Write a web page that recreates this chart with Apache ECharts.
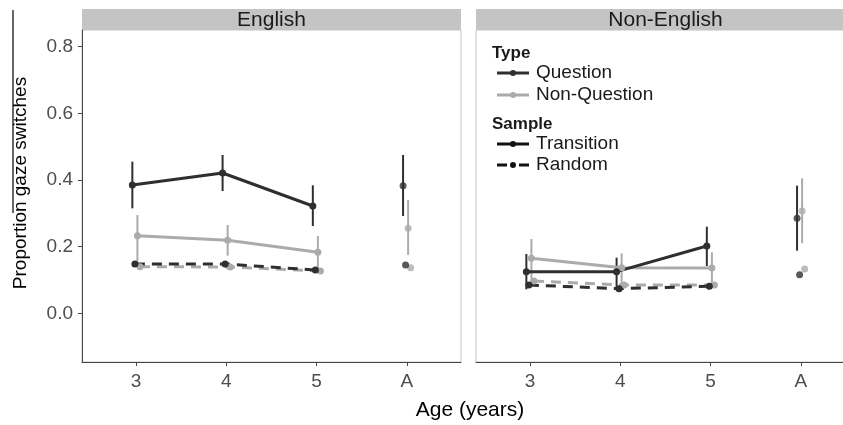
<!DOCTYPE html>
<html>
<head>
<meta charset="utf-8">
<script src="https://cdn.jsdelivr.net/npm/echarts@6/dist/echarts.min.js"></script>
<style>
  html, body { margin: 0; padding: 0; background: #fff; }
  #chart { width: 843px; height: 425px; }
</style>
</head>
<body>
<div id="chart"></div>
<script>
// age groups, placed at 1..4 on a value axis
var categories = ['3', '4', '5', 'A'];
var panels = ['English', 'Non-English'];
var yTicks = [0, 0.2, 0.4, 0.6, 0.8];

// English panel
var engQT = [0.385, 0.421, 0.322, 0.383];
var engQTLo = [0.315, 0.367, 0.262, 0.292];
var engQTHi = [0.455, 0.475, 0.384, 0.475];
var engNQT = [0.233, 0.219, 0.183, 0.255];
var engNQTLo = [0.155, 0.173, 0.127, 0.175];
var engNQTHi = [0.295, 0.265, 0.232, 0.340];
var engQR = [0.148, 0.148, 0.130, 0.145];
var engNQR = [0.140, 0.139, 0.127, 0.137];

// Non-English panel
var nonQT = [0.125, 0.125, 0.202, 0.285];
var nonQTLo = [0.072, 0.072, 0.142, 0.188];
var nonQTHi = [0.178, 0.167, 0.260, 0.383];
var nonNQT = [0.165, 0.137, 0.136, 0.307];
var nonNQTLo = [0.095, 0.080, 0.087, 0.210];
var nonNQTHi = [0.223, 0.180, 0.183, 0.405];
var nonQR = [0.085, 0.074, 0.081, 0.116];
var nonNQR = [0.097, 0.085, 0.085, 0.133];

var DARK = '#2f2f2f';
var GRAY = '#ababab';
var FONT = '"Liberation Sans", Arial, sans-serif';

var chart = echarts.init(document.getElementById('chart'));

function pts(vals, off, from, to) {
  var out = [];
  for (var i = from; i < to; i++) out.push([i + 1 + off, vals[i]]);
  return out;
}

function errData(lo, hi, off) {
  return lo.map(function (v, i) { return [i + 1 + off, v, hi[i]]; });
}

function errSeries(p, lo, hi, off, color) {
  return {
    type: 'custom', xAxisIndex: p, yAxisIndex: p,
    data: errData(lo, hi, off),
    encode: { x: 0, y: [1, 2] },
    renderItem: function (params, api) {
      var a = api.coord([api.value(0), api.value(1)]);
      var b = api.coord([api.value(0), api.value(2)]);
      return { type: 'line', shape: { x1: a[0], y1: a[1], x2: b[0], y2: b[1] },
        style: { stroke: color, lineWidth: 2 } };
    },
    z: 2
  };
}

function group(p, vals, off, color, dashed) {
  return [{
    type: 'line', xAxisIndex: p, yAxisIndex: p,
    data: pts(vals, off, 0, 3),
    symbol: 'circle', symbolSize: 7,
    itemStyle: { color: color },
    lineStyle: { color: color, width: 3, type: dashed ? [10, 7] : 'solid' },
    z: 3
  }, {
    type: 'scatter', xAxisIndex: p, yAxisIndex: p,
    data: pts(vals, off, 3, 4),
    symbolSize: 7, itemStyle: { color: color }, z: 3
  }];
}

// dodge offsets
var oQT = -0.042, oQR = -0.014, oNQT = 0.014, oNQR = 0.042;

var series = [];
[[engQT, engQTLo, engQTHi, engNQT, engNQTLo, engNQTHi, engQR, engNQR],
 [nonQT, nonQTLo, nonQTHi, nonNQT, nonNQTLo, nonNQTHi, nonQR, nonNQR]].forEach(function (d, p) {
  series.push(errSeries(p, d[4], d[5], oNQT, GRAY));
  series = series.concat(group(p, d[7], oNQR, GRAY, true));
  series = series.concat(group(p, d[3], oNQT, GRAY, false));
  series.push(errSeries(p, d[1], d[2], oQT, DARK));
  series = series.concat(group(p, d[6], oQR, DARK, true));
  series = series.concat(group(p, d[0], oQT, DARK, false));
});

function xAxis(p) {
  return {
    type: 'value', gridIndex: p, min: 0.4, max: 4.6,
    splitLine: { show: false },
    axisLine: { show: true, onZero: false, lineStyle: { color: '#444', width: 1 } },
    axisTick: { show: true, length: 4, customValues: [1, 2, 3, 4], lineStyle: { color: '#444' } },
    axisLabel: {
      customValues: [1, 2, 3, 4], margin: 10, fontSize: 19, color: '#4d4d4d', fontFamily: FONT,
      formatter: function (v) { return categories[Math.round(v) - 1]; }
    }
  };
}

function yAxis(p) {
  return {
    type: 'value', gridIndex: p, min: -0.146, max: 0.85,
    splitLine: { show: false },
    axisLine: { show: p === 0, lineStyle: { color: '#444', width: 1 } },
    axisTick: { show: p === 0, length: 4, customValues: yTicks, lineStyle: { color: '#444' } },
    axisLabel: {
      show: p === 0, customValues: yTicks, margin: 9, fontSize: 19, color: '#4d4d4d', fontFamily: FONT,
      formatter: function (v) { return v.toFixed(1); }
    }
  };
}

function legendRow(y, color, dashed, label) {
  return [
    { type: 'line', shape: { x1: 497, y1: y, x2: dashed ? 507 : 529, y2: y },
      style: { stroke: color, lineWidth: 3 } },
    dashed ? { type: 'line', shape: { x1: 519, y1: y, x2: 529, y2: y },
      style: { stroke: color, lineWidth: 3 } } : null,
    { type: 'circle', shape: { cx: 513, cy: y, r: 3 }, style: { fill: color } },
    { type: 'text', x: 536, y: y, style: { text: label, font: '19px ' + FONT,
      fill: '#1a1a1a', textVerticalAlign: 'middle' } }
  ].filter(Boolean);
}

var graphics = [
  { type: 'rect', shape: { x: 82, y: 9, width: 379, height: 21 }, style: { fill: '#c4c4c4' } },
  { type: 'rect', shape: { x: 476, y: 9, width: 379, height: 21 }, style: { fill: '#c4c4c4' } },
  { type: 'text', x: 271.5, y: 20, style: { text: panels[0], font: '21px ' + FONT, fill: '#1a1a1a',
    textAlign: 'center', textVerticalAlign: 'middle' } },
  { type: 'text', x: 665.5, y: 20, style: { text: panels[1], font: '21px ' + FONT, fill: '#1a1a1a',
    textAlign: 'center', textVerticalAlign: 'middle' } },
  { type: 'text', x: 21, y: 183, rotation: Math.PI / 2, style: { text: 'Proportion gaze switches',
    font: '19px ' + FONT, fill: '#000', textAlign: 'center', textVerticalAlign: 'middle' } },
  { type: 'text', x: 470, y: 410, style: { text: 'Age (years)', font: '21px ' + FONT, fill: '#000',
    textAlign: 'center', textVerticalAlign: 'middle' } },
  { type: 'line', shape: { x1: 13, y1: 10, x2: 13, y2: 213 }, style: { stroke: '#000', lineWidth: 1.2 } },
  { type: 'text', x: 492, y: 53, style: { text: 'Type', font: 'bold 17px ' + FONT, fill: '#1a1a1a',
    textVerticalAlign: 'middle' } },
  { type: 'text', x: 492, y: 124, style: { text: 'Sample', font: 'bold 17px ' + FONT, fill: '#1a1a1a',
    textVerticalAlign: 'middle' } }
]
  .concat(legendRow(73, DARK, false, 'Question'))
  .concat(legendRow(95, GRAY, false, 'Non-Question'))
  .concat(legendRow(144, '#111', false, 'Transition'))
  .concat(legendRow(165, '#111', true, 'Random'));

chart.setOption({
  animation: false,
  grid: [
    { left: 82, top: 30, width: 379, bottom: 63, show: true, borderColor: '#c4c4c4', borderWidth: 1,
      outerBoundsMode: 'none' },
    { left: 476, top: 30, width: 379, bottom: 63, show: true, borderColor: '#c4c4c4', borderWidth: 1,
      outerBoundsMode: 'none' }
  ],
  xAxis: [xAxis(0), xAxis(1)],
  yAxis: [yAxis(0), yAxis(1)],
  series: series,
  graphic: graphics
});
</script>
</body>
</html>
